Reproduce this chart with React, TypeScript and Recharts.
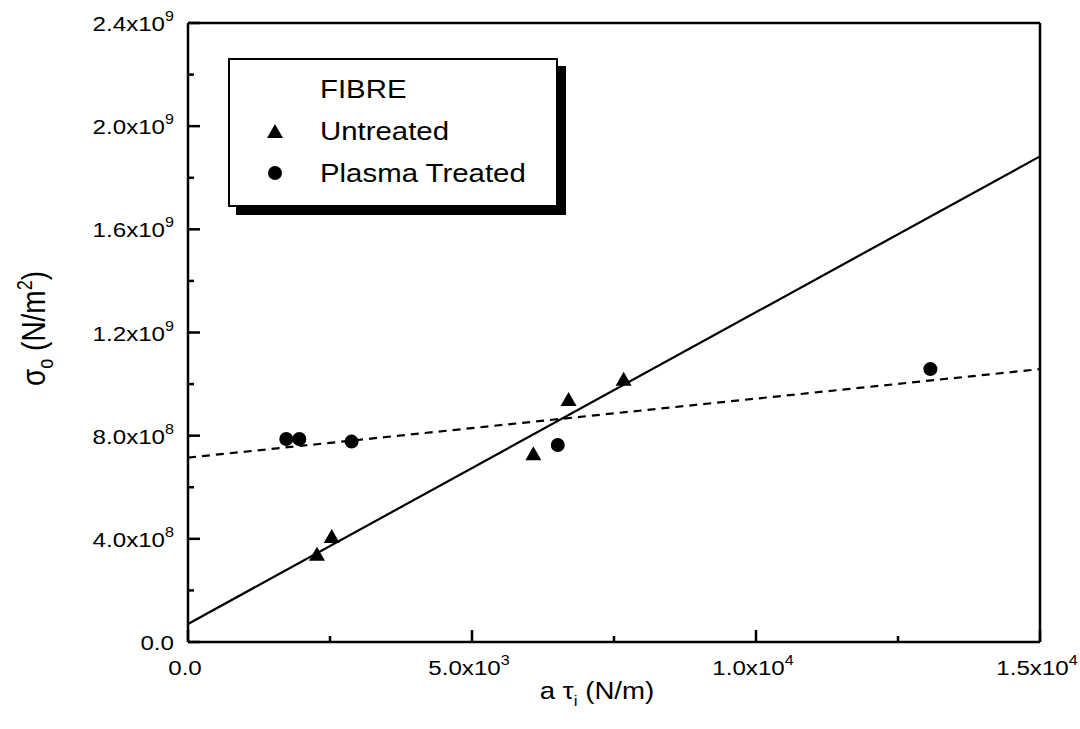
import {
  ScatterChart, Scatter, XAxis, YAxis,
} from 'recharts'

const W = 1080
const H = 729
const FONT = '"Liberation Sans", Arial, Helvetica, sans-serif'

// ── Data ────────────────────────────────────────────────────────────────────
const untreatedX = [2270, 2530, 6080, 6700, 7670]
const untreatedY = [3.42e8, 4.11e8, 7.32e8, 9.42e8, 1.021e9]
const plasmaX = [1730, 1960, 2880, 6510, 13070]
const plasmaY = [7.87e8, 7.87e8, 7.77e8, 7.64e8, 1.058e9]

// linear fits, end points at the axis limits
const untreatedFitX = [0, 15000]
const untreatedFitY = [7.0e7, 1.883e9]
const plasmaFitX = [0, 15000]
const plasmaFitY = [7.15e8, 1.058e9]

const xTicks = [0, 2500, 5000, 7500, 10000, 12500, 15000]
const xMajor = [0, 5000, 10000, 15000]
const yTicks = [0, 2e8, 4e8, 6e8, 8e8, 1e9, 1.2e9, 1.4e9, 1.6e9, 1.8e9, 2e9, 2.2e9, 2.4e9]
const yMajor = [0, 4e8, 8e8, 1.2e9, 1.6e9, 2e9, 2.4e9]

const zip = (xs: number[], ys: number[]) => xs.map((x, i) => ({ x, y: ys[i] }))
const untreated = zip(untreatedX, untreatedY)
const plasma = zip(plasmaX, plasmaY)
const untreatedFit = zip(untreatedFitX, untreatedFitY)
const plasmaFit = zip(plasmaFitX, plasmaFitY)

const MAJOR = 12
const MINOR = 6
const TICK_FS = 21
const SUP_FS = 14
// the original figure is stretched sideways, so text is widened a bit
const STRETCH = 1.15

// "4.0x10^8" style label, drawn at (x, y) and widened around that point
function SciLabel({ v, x, y, anchor }: any) {
  const e = v === 0 ? 0 : Math.floor(Math.log10(v) + 1e-9)
  const m = v === 0 ? '0.0' : (v / Math.pow(10, e)).toFixed(1)
  return (
    <g transform={`translate(${x} ${y}) scale(${STRETCH} 1)`}>
      <text x={0} y={0} textAnchor={anchor} fontSize={TICK_FS} fontFamily={FONT} fill="#000">
        {v === 0 ? m : <>{m}x10<tspan dy={-10} fontSize={SUP_FS}>{e}</tspan></>}
      </text>
    </g>
  )
}

function BottomTick({ x, y, payload }: any) {
  const major = xMajor.includes(payload.value)
  return (
    <g>
      <line x1={x} x2={x} y1={y} y2={y - (major ? MAJOR : MINOR)} stroke="#000" strokeWidth={2.5} />
      {major && <SciLabel v={payload.value} x={x - 3} y={y + 33} anchor="middle" />}
    </g>
  )
}

function TopTick({ x, y, payload }: any) {
  const major = xMajor.includes(payload.value)
  return <line x1={x} x2={x} y1={y} y2={y + (major ? MAJOR : MINOR)} stroke="#000" strokeWidth={2.5} />
}

function LeftTick({ x, y, payload }: any) {
  const major = yMajor.includes(payload.value)
  return (
    <g>
      <line x1={x} x2={x + (major ? MAJOR : MINOR)} y1={y} y2={y} stroke="#000" strokeWidth={2.5} />
      {major && <SciLabel v={payload.value} x={x - 14} y={y + 8} anchor="end" />}
    </g>
  )
}

function RightTick({ x, y, payload }: any) {
  const major = yMajor.includes(payload.value)
  return <line x1={x} x2={x - (major ? MAJOR : MINOR)} y1={y} y2={y} stroke="#000" strokeWidth={2.5} />
}

function XTitle({ viewBox }: any) {
  const cx = viewBox.x + viewBox.width * 0.48
  const cy = 642 + 57
  return (
    <g transform={`translate(${cx} ${cy}) scale(1.15 1)`}>
      <text x={0} y={0} textAnchor="middle" fontSize={24} fontFamily={FONT} fill="#000">
        a τ<tspan dy={7} fontSize={15}>i</tspan><tspan dy={-7}> (N/m)</tspan>
      </text>
    </g>
  )
}

function YTitle({ viewBox }: any) {
  const cx = 33
  const cy = viewBox.y + viewBox.height / 2 - 4
  return (
    <g transform={`translate(${cx} ${cy}) scale(1.2 1) rotate(-90)`}>
      <text x={0} y={10} textAnchor="middle" fontSize={28} fontFamily={FONT} fill="#000">
        σ<tspan dy={7} fontSize={18}>o</tspan><tspan dy={-7}> (N/m</tspan><tspan dy={-11} fontSize={18}>2</tspan><tspan dy={11}>)</tspan>
      </text>
    </g>
  )
}

function Triangle({ cx, cy, w = 16 }: any) {
  const h = w * 0.88
  return <polygon points={`${cx},${cy - h / 2} ${cx - w / 2},${cy + h / 2} ${cx + w / 2},${cy + h / 2}`} fill="#000" />
}

function Dot({ cx, cy, r = 7 }: any) {
  return <circle cx={cx} cy={cy} r={r} fill="#000" />
}

const NoMark = () => <g />

function LegendBox() {
  const row = { display: 'flex', alignItems: 'center', height: 42 }
  const mark = { width: 90, display: 'flex', justifyContent: 'center' }
  const label = { display: 'inline-block', transform: 'scaleX(1.13)', transformOrigin: 'left center', whiteSpace: 'nowrap' as const }
  return (
    <div style={{
      position: 'absolute', left: 228, top: 58, width: 326, height: 137,
      border: '2px solid #000', background: '#fff', boxShadow: '8px 8px 0 #000',
      fontFamily: FONT, fontSize: 26, color: '#000', padding: '8px 0 0 0', boxSizing: 'content-box',
    }}>
      <div style={row}><div style={mark} /><span style={label}>FIBRE</span></div>
      <div style={row}>
        <div style={mark}><svg width={18} height={16}><Triangle cx={9} cy={8} w={16} /></svg></div>
        <span style={label}>Untreated</span>
      </div>
      <div style={row}>
        <div style={mark}><svg width={16} height={16}><Dot cx={8} cy={8} r={7} /></svg></div>
        <span style={label}>Plasma Treated</span>
      </div>
    </div>
  )
}

export default function App() {
  const axisLine = { stroke: '#000', strokeWidth: 2.5 }
  return (
    <div style={{ position: 'absolute', left: 0, top: 0, width: W, height: H, background: '#fff' }}>
      <ScatterChart width={W} height={H} margin={{ top: 13, right: 30, bottom: 57, left: 128 }}>
        <XAxis type="number" dataKey="x" domain={[0, 15000]} ticks={xTicks} interval={0}
          height={30} tickSize={0} tickMargin={0} tickLine={false} axisLine={axisLine}
          tick={<BottomTick />} label={{ content: XTitle }} />
        <XAxis xAxisId="top" orientation="top" type="number" dataKey="x" domain={[0, 15000]} ticks={xTicks} interval={0}
          height={10} tickSize={0} tickMargin={0} tickLine={false} axisLine={axisLine} tick={<TopTick />} />
        <YAxis type="number" dataKey="y" domain={[0, 2.4e9]} ticks={yTicks} interval={0}
          width={60} tickSize={0} tickMargin={0} tickLine={false} axisLine={axisLine}
          tick={<LeftTick />} label={{ content: YTitle }} />
        <YAxis yAxisId="right" orientation="right" type="number" dataKey="y" domain={[0, 2.4e9]} ticks={yTicks} interval={0}
          width={10} tickSize={0} tickMargin={0} tickLine={false} axisLine={axisLine} tick={<RightTick />} />
        <Scatter data={untreatedFit} line={{ stroke: '#000', strokeWidth: 2.2 }} shape={NoMark} isAnimationActive={false} />
        <Scatter data={plasmaFit} line={{ stroke: '#000', strokeWidth: 2.2, strokeDasharray: '8 6' }} shape={NoMark} isAnimationActive={false} />
        <Scatter name="Untreated" data={untreated} shape={<Triangle />} isAnimationActive={false} />
        <Scatter name="Plasma Treated" data={plasma} shape={<Dot />} isAnimationActive={false} />
      </ScatterChart>
      <LegendBox />
    </div>
  )
}
